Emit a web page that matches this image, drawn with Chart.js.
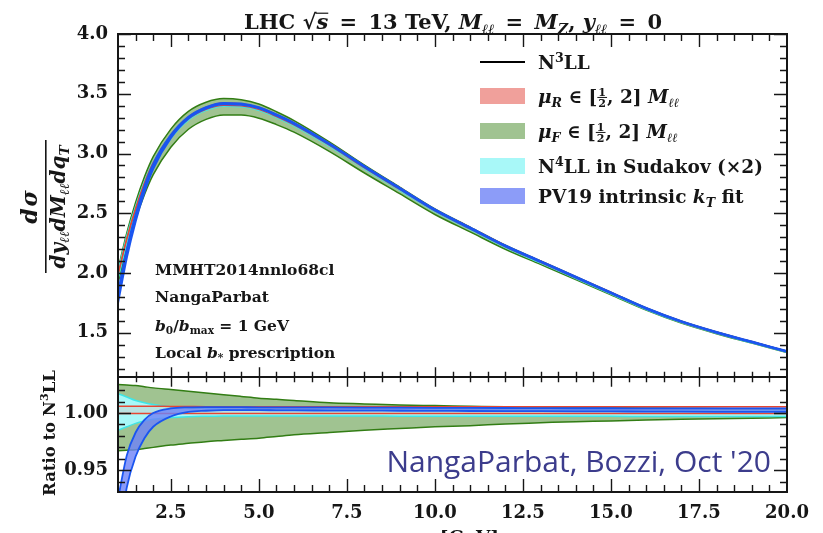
<!DOCTYPE html>
<html>
<head>
<meta charset="utf-8">
<script src="https://cdn.jsdelivr.net/npm/chart.js@4.4.1/dist/chart.umd.min.js"></script>
<style>
  html, body { margin: 0; padding: 0; background: #fff; }
  #wrap { width: 823px; height: 533px; }
</style>
</head>
<body>
<div id="wrap"><canvas id="chart" width="823" height="533"></canvas></div>
<script>
// q_T grid [GeV]
const qT = [1.0, 1.25, 1.5, 1.75, 2.0, 2.5, 3.0, 3.5, 4.0, 4.5, 5.0, 5.5, 6.0, 7, 8, 9, 10, 11, 12, 13, 14, 15, 16, 17, 18, 19, 20];

// N3LL central cross section
const n3ll = [1.98, 2.28, 2.53, 2.74, 2.91, 3.14, 3.29, 3.37, 3.405, 3.40, 3.37, 3.31, 3.24, 3.07, 2.88, 2.70, 2.52, 2.37, 2.22, 2.09, 1.96, 1.83, 1.70, 1.59, 1.50, 1.42, 1.34];

// ratios to N3LL (band edges)
const muFUp = [1.025, 1.0245, 1.024, 1.023, 1.022, 1.0205, 1.019, 1.0175, 1.016, 1.0145, 1.013, 1.012, 1.011, 1.009, 1.008, 1.007, 1.0065, 1.006, 1.0055, 1.0052, 1.005, 1.0047, 1.0045, 1.0042, 1.004, 1.0037, 1.0035];
const muFDn = [0.967, 0.9675, 0.968, 0.969, 0.970, 0.972, 0.9735, 0.975, 0.976, 0.977, 0.978, 0.9795, 0.981, 0.983, 0.985, 0.9865, 0.988, 0.989, 0.9905, 0.9915, 0.9925, 0.993, 0.994, 0.9945, 0.995, 0.9955, 0.996];
const muRUp = [1.006, 1.006, 1.006, 1.006, 1.006, 1.0058, 1.0057, 1.0056, 1.0056, 1.0055, 1.0055, 1.0055, 1.0055, 1.0055, 1.0055, 1.0055, 1.0055, 1.0055, 1.0055, 1.0055, 1.0055, 1.0055, 1.0055, 1.0055, 1.0055, 1.0055, 1.0055];
const muRDn = [0.9995, 0.9995, 0.9995, 0.9995, 0.9995, 0.9995, 0.9995, 0.9995, 0.9995, 0.9995, 0.9995, 0.9995, 0.9995, 0.9995, 0.9995, 0.9995, 0.9995, 0.9995, 0.9995, 0.9995, 0.9995, 0.9995, 0.9995, 0.9995, 0.9995, 0.9995, 0.9995];
const n4llUp = [1.017, 1.014, 1.011, 1.009, 1.0075, 1.0055, 1.0045, 1.004, 1.0035, 1.003, 1.003, 1.0028, 1.0027, 1.0026, 1.0025, 1.0025, 1.0024, 1.0023, 1.0023, 1.0022, 1.0022, 1.0021, 1.0021, 1.002, 1.002, 1.002, 1.002];
const n4llDn = [0.985, 0.988, 0.991, 0.993, 0.9945, 0.996, 0.9968, 0.9972, 0.9975, 0.9975, 0.9975, 0.9975, 0.9975, 0.9974, 0.9974, 0.9973, 0.9973, 0.9972, 0.9972, 0.9971, 0.9971, 0.9971, 0.997, 0.997, 0.997, 0.997, 0.997];
const pv19Up = [0.925, 0.963, 0.983, 0.994, 1.000, 1.004, 1.005, 1.0052, 1.0052, 1.0051, 1.005, 1.005, 1.005, 1.0049, 1.0048, 1.0047, 1.0046, 1.0045, 1.0044, 1.0043, 1.0042, 1.0042, 1.0041, 1.0041, 1.004, 1.004, 1.004];
const pv19Dn = [0.885, 0.935, 0.962, 0.978, 0.988, 0.997, 1.001, 1.002, 1.0025, 1.0025, 1.0025, 1.0024, 1.0023, 1.0022, 1.0021, 1.002, 1.0019, 1.0018, 1.0017, 1.0016, 1.0015, 1.0014, 1.0013, 1.0012, 1.0011, 1.001, 1.001];

// tick labels
const xTickVals = [2.5, 5.0, 7.5, 10.0, 12.5, 15.0, 17.5, 20.0];
const yTopTickVals = [1.5, 2.0, 2.5, 3.0, 3.5, 4.0];
const yRatioTickVals = [0.95, 1.00];

const SERIF = '"DejaVu Serif"';
const INK = '#161616';
const C = {
  green: ['#327d14', '#a0c391'],
  red: ['#e64632', 'rgba(240,160,155,0.25)'],
  cyan: ['#3ee6e6', '#a8f8f8'],
  blue: ['#1a55f0', 'rgba(110,130,248,0.8)']
};

function band(label, up, dn, axis, col, lw, order, base) {
  const mk = (arr, fill, ord) => ({
    label: label,
    yAxisID: axis,
    order: ord,
    data: qT.map((q, i) => ({ x: q, y: base ? arr[i] * base[i] : arr[i] })),
    borderColor: col[0],
    borderWidth: lw,
    backgroundColor: col[1],
    fill: fill,
    pointRadius: 0,
    cubicInterpolationMode: 'monotone'
  });
  return [mk(up, '+1', order), mk(dn, false, order - 0.5)];
}

let datasets = [];
datasets.push({ label: 'N3LL', yAxisID: 'y', order: 100, data: qT.map((q, i) => ({ x: q, y: n3ll[i] })),
  borderColor: '#000', borderWidth: 1.5, pointRadius: 0, fill: false, cubicInterpolationMode: 'monotone' });
datasets = datasets.concat(
  band('muF', muFUp, muFDn, 'y', C.green, 1.5, 50, n3ll),
  band('N4LL', n4llUp, n4llDn, 'y', C.cyan, 1.5, 40, n3ll),
  band('muR', muRUp, muRDn, 'y', C.red, 1.2, 30, n3ll),
  band('PV19', pv19Up, pv19Dn, 'y', C.blue, 2.2, 20, n3ll)
);
datasets.push({ label: 'N3LL ratio', yAxisID: 'y2', order: 100, data: qT.map(q => ({ x: q, y: 1 })),
  borderColor: '#000', borderWidth: 1.5, pointRadius: 0, fill: false });
datasets = datasets.concat(
  band('muF', muFUp, muFDn, 'y2', C.green, 1.5, 50),
  band('N4LL', n4llUp, n4llDn, 'y2', C.cyan, 1.5, 40),
  band('muR', muRUp, muRDn, 'y2', C.red, 1.5, 30),
  band('PV19', pv19Up, pv19Dn, 'y2', C.blue, 1.8, 20)
);

// rich text: segments {t, s:'b'|'bi'|'i'|'', p:'sub'|'sup'|'frac', a, b, gap}
function fnt(s, size) {
  return (s && s.includes('i') ? 'italic ' : '') + (s && s.includes('b') ? 'bold ' : '') + size + 'px ' + SERIF;
}
function segW(ctx, g, size) {
  if (g.gap) return g.gap;
  if (g.p === 'frac') {
    ctx.font = fnt(g.s, size * 0.6);
    return Math.max(ctx.measureText(g.a).width, ctx.measureText(g.b).width) + 2;
  }
  ctx.font = fnt(g.s, g.p ? size * 0.68 : size);
  return ctx.measureText(g.t).width;
}
function drawRich(ctx, x, y, segs, size, align) {
  let w = 0;
  segs.forEach(g => { w += segW(ctx, g, size); });
  let cx = align === 'center' ? x - w / 2 : (align === 'right' ? x - w : x);
  ctx.textAlign = 'left';
  ctx.textBaseline = 'alphabetic';
  segs.forEach(g => {
    const gw = segW(ctx, g, size);
    if (g.gap) {
      // just space
    } else if (g.p === 'frac') {
      const fs = size * 0.6;
      ctx.font = fnt(g.s, fs);
      const bar = y - size * 0.3;
      ctx.fillText(g.a, cx + (gw - ctx.measureText(g.a).width) / 2, bar - 1.5);
      ctx.fillText(g.b, cx + (gw - ctx.measureText(g.b).width) / 2, bar + 1.5 + fs * 0.73);
      ctx.fillRect(cx, bar - 0.5, gw, 1);
    } else {
      ctx.font = fnt(g.s, g.p ? size * 0.68 : size);
      const dy = g.p === 'sub' ? size * 0.22 : (g.p === 'sup' ? -size * 0.4 : 0);
      ctx.fillText(g.t, cx, y + dy);
      if (g.over) ctx.fillRect(cx - 1, y - size * 0.78, gw + 1, 1.2);
    }
    cx += gw;
  });
  return w;
}

const titleSegs = [
  { t: 'LHC ', s: 'b' }, { t: '√', s: 'b' }, { t: 's', s: 'bi', over: true }, { gap: 4 }, { t: ' = ', s: 'b' }, { gap: 4 }, { t: '13 TeV, ', s: 'b' },
  { t: 'M', s: 'bi' }, { t: 'ℓℓ', s: 'bi', p: 'sub' }, { gap: 4 }, { t: ' = ', s: 'b' }, { gap: 4 }, { t: 'M', s: 'bi' }, { t: 'Z', s: 'bi', p: 'sub' },
  { t: ', ', s: 'b' }, { t: 'y', s: 'bi' }, { t: 'ℓℓ', s: 'bi', p: 'sub' }, { gap: 4 }, { t: ' = ', s: 'b' }, { gap: 4 }, { t: '0', s: 'b' }
];
const legendItems = [
  { kind: 'line', col: '#000', segs: [{ t: 'N', s: 'b' }, { t: '3', s: 'b', p: 'sup' }, { t: 'LL', s: 'b' }] },
  { kind: 'box', col: '#f0a09b', segs: [{ t: 'μ', s: 'bi' }, { t: 'R', s: 'bi', p: 'sub' }, { t: ' ∈ [', s: 'b' }, { p: 'frac', a: '1', b: '2', s: 'b' }, { t: ', 2] ', s: 'b' }, { t: 'M', s: 'bi' }, { t: 'ℓℓ', s: 'bi', p: 'sub' }] },
  { kind: 'box', col: C.green[1], segs: [{ t: 'μ', s: 'bi' }, { t: 'F', s: 'bi', p: 'sub' }, { t: ' ∈ [', s: 'b' }, { p: 'frac', a: '1', b: '2', s: 'b' }, { t: ', 2] ', s: 'b' }, { t: 'M', s: 'bi' }, { t: 'ℓℓ', s: 'bi', p: 'sub' }] },
  { kind: 'box', col: C.cyan[1], segs: [{ t: 'N', s: 'b' }, { t: '4', s: 'b', p: 'sup' }, { t: 'LL in Sudakov (×2)', s: 'b' }] },
  { kind: 'box', col: '#8c9cf8', segs: [{ t: 'PV19 intrinsic ', s: 'b' }, { t: 'k', s: 'bi' }, { t: 'T', s: 'bi', p: 'sub' }, { t: ' fit', s: 'b' }] }
];
const notes = [
  [{ t: 'MMHT2014nnlo68cl', s: 'b' }],
  [{ t: 'NangaParbat', s: 'b' }],
  [{ t: 'b', s: 'bi' }, { t: '0', s: 'b', p: 'sub' }, { t: '/', s: 'b' }, { t: 'b', s: 'bi' }, { t: 'max', s: 'b', p: 'sub' }, { t: ' = 1 GeV', s: 'b' }],
  [{ t: 'Local ', s: 'b' }, { t: 'b', s: 'bi' }, { t: '*', s: 'b', p: 'sub' }, { t: ' prescription', s: 'b' }]
];

const decor = {
  id: 'decor',
  afterDatasetsDraw(chart) {
    const { ctx, chartArea: a, scales } = chart;
    const x = scales.x, y = scales.y, y2 = scales.y2;
    const sep = y.bottom;
    const MAJ = 13, MIN = 7;
    ctx.save();
    ctx.strokeStyle = INK;
    ctx.lineWidth = 1.4;
    ctx.beginPath();
    // x ticks: top, separator (both sides), bottom
    for (let v = 1.5; v <= 19.51; v += 0.5) {
      const px = Math.round(x.getPixelForValue(v)) + 0.5;
      const L = Math.abs(v / 2.5 - Math.round(v / 2.5)) < 1e-6 ? MAJ : MIN;
      ctx.moveTo(px, a.top); ctx.lineTo(px, a.top + L);
      ctx.moveTo(px, sep - L * 0.75); ctx.lineTo(px, sep + L * 0.75);
      ctx.moveTo(px, a.bottom); ctx.lineTo(px, a.bottom - L);
    }
    // top panel y ticks
    for (let k = 12; k <= 40; k++) {
      const py = Math.round(y.getPixelForValue(k / 10)) + 0.5;
      const L = k % 5 === 0 ? MAJ : MIN;
      ctx.moveTo(a.left, py); ctx.lineTo(a.left + L, py);
      ctx.moveTo(a.right, py); ctx.lineTo(a.right - L, py);
    }
    // ratio panel y ticks
    for (let k = 94; k <= 102; k++) {
      const py = Math.round(y2.getPixelForValue(k / 100)) + 0.5;
      const L = k % 5 === 0 ? MAJ : MIN;
      ctx.moveTo(a.left, py); ctx.lineTo(a.left + L, py);
      ctx.moveTo(a.right, py); ctx.lineTo(a.right - L, py);
    }
    ctx.stroke();
    // frames
    ctx.lineWidth = 2;
    ctx.strokeRect(a.left, a.top, a.right - a.left, sep - a.top);
    ctx.strokeRect(a.left, sep, a.right - a.left, a.bottom - sep);
    ctx.restore();
  },
  afterDraw(chart) {
    const { ctx } = chart;
    ctx.save();
    ctx.fillStyle = INK;
    // title
    drawRich(ctx, 453, 29, titleSegs, 21, 'center');
    // legend
    const rows = [62, 96, 131, 166, 196];
    legendItems.forEach((it, i) => {
      const ry = rows[i];
      ctx.fillStyle = it.col;
      if (it.kind === 'line') ctx.fillRect(480, ry - 1, 45, 2);
      else ctx.fillRect(480, ry - 8, 45, 16);
      ctx.fillStyle = INK;
      drawRich(ctx, 538, ry + 7, it.segs, 18.5, 'left');
    });
    // notes
    const nb = [275, 302, 331, 358];
    notes.forEach((s, i) => drawRich(ctx, 155, nb[i], s, 15.5, 'left'));
    // watermark
    ctx.fillStyle = '#3c3c8c';
    ctx.font = '30px "Open Sans"';
    ctx.textAlign = 'right';
    ctx.textBaseline = 'alphabetic';
    ctx.fillText("NangaParbat, Bozzi, Oct '20", 771, 472);
    ctx.fillStyle = INK;
    // x title (mostly below the canvas edge)
    drawRich(ctx, 455, 544, [{ t: 'q', s: 'bi' }, { t: 'T', s: 'bi', p: 'sub' }, { t: ' [GeV]', s: 'b' }], 18.5, 'center');
    // y titles (rotated)
    ctx.save();
    ctx.translate(46, 207);
    ctx.rotate(-Math.PI / 2);
    drawRich(ctx, 0, -9, [{ t: 'd', s: 'bi' }, { gap: 2 }, { t: 'σ', s: 'bi' }], 22, 'center');
    ctx.fillRect(-66, -1, 133, 1.6);
    drawRich(ctx, 0, 19, [{ t: 'dy', s: 'bi' }, { t: 'ℓℓ', s: 'bi', p: 'sub' }, { t: 'dM', s: 'bi' }, { t: 'ℓℓ', s: 'bi', p: 'sub' }, { t: 'dq', s: 'bi' }, { t: 'T', s: 'bi', p: 'sub' }], 20, 'center');
    ctx.restore();
    ctx.save();
    ctx.translate(55, 433);
    ctx.rotate(-Math.PI / 2);
    drawRich(ctx, 0, 0, [{ t: 'Ratio to N', s: 'b' }, { t: '3', s: 'b', p: 'sup' }, { t: 'LL', s: 'b' }], 16.5, 'center');
    ctx.restore();
    ctx.restore();
  }
};

const tickFont = { family: 'DejaVu Serif', size: 18, weight: 'bold' };

new Chart(document.getElementById('chart'), {
  type: 'line',
  data: { datasets: datasets },
  options: {
    responsive: false,
    devicePixelRatio: 1,
    animation: false,
    layout: { padding: { left: 0, right: 36, top: 34, bottom: 0 } },
    plugins: { legend: { display: false }, tooltip: { enabled: false }, filler: { drawTime: 'beforeDatasetDraw' } },
    scales: {
      x: {
        type: 'linear', min: 1, max: 20,
        grid: { display: false, drawTicks: false }, border: { display: false },
        afterBuildTicks: s => { s.ticks = xTickVals.map(v => ({ value: v })); },
        afterFit: s => { s.height = 41; },
        ticks: { font: tickFont, color: INK, padding: 11, maxRotation: 0, autoSkip: false, callback: v => v.toFixed(1) }
      },
      y: {
        type: 'linear', min: 1.13, max: 4.0, stack: 'panels', stackWeight: 343, weight: 1,
        grid: { display: false, drawTicks: false }, border: { display: false },
        afterBuildTicks: s => { s.ticks = yTopTickVals.map(v => ({ value: v })); },
        afterFit: s => { s.width = 118; },
        ticks: { font: tickFont, color: INK, padding: 10, callback: v => v.toFixed(1) }
      },
      y2: {
        type: 'linear', min: 0.931, max: 1.0315, stack: 'panels', stackWeight: 115, weight: 0,
        grid: { display: false, drawTicks: false }, border: { display: false },
        afterBuildTicks: s => { s.ticks = yRatioTickVals.map(v => ({ value: v })); },
        afterFit: s => { s.width = 118; },
        ticks: { font: tickFont, color: INK, padding: 10, callback: v => v.toFixed(2) }
      }
    }
  },
  plugins: [decor]
});
</script>
</body>
</html>
